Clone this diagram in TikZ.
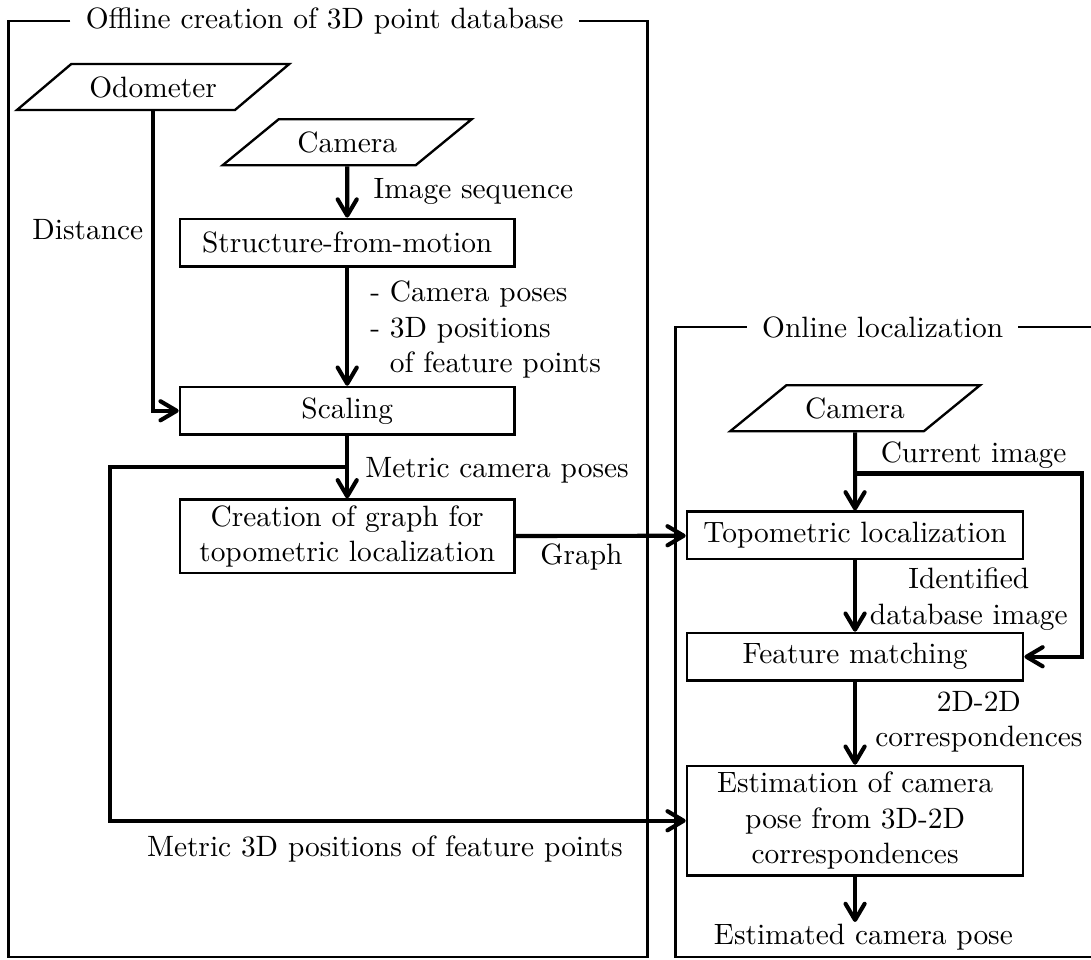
\documentclass[tikz,border=0pt]{standalone}
\usepackage{tikz}
\usetikzlibrary{arrows.meta,shapes.geometric}

\begin{document}
\begin{tikzpicture}[
    box/.style={draw, line width=0.8pt, minimum width=4cm, minimum height=0.57cm, inner sep=2pt, align=center},
    io/.style={draw, line width=0.8pt, trapezium, trapezium left angle=40, trapezium right angle=140, trapezium stretches=true, minimum height=0.55cm},
    flow/.style={-{Straight Barb[length=5.5pt,width=6.5pt,round]}, line width=1.4pt},
    frame/.style={line width=0.9pt},
    ttl/.style={inner xsep=5pt, inner ysep=0pt},
    lbl/.style={inner sep=0pt, align=left}
]
    \useasboundingbox (0,0) rectangle (13.04,-11.47);

    % Offline part
    \node[ttl] (offtitle) at (3.88,-0.25) {Offline creation of 3D point database};
    \node[io, minimum width=3.26cm] (odo) at (1.83,-1.04) {Odometer};
    \node[io, minimum width=2.99cm] (cam) at (4.15,-1.70) {Camera};
    \node[box] (sfm) at (4.15,-2.90) {Structure-from-motion};
    \node[box] (scal) at (4.15,-4.91) {Scaling};
    \node[box, minimum height=0.79cm] (graph) at (4.15,-6.41) {Creation of graph for\\topometric localization};

    % Online part
    \node[ttl] (ontitle) at (10.55,-3.91) {Online localization};
    \node[io, minimum width=3.0cm] (cam2) at (10.22,-4.88) {Camera};
    \node[box, minimum width=4.02cm] (topo) at (10.22,-6.40) {Topometric localization};
    \node[box, minimum width=4.02cm] (feat) at (10.22,-7.85) {Feature matching};
    \node[box, minimum width=4.02cm, minimum height=1.31cm] (est) at (10.22,-9.81) {Estimation of camera\\pose from 3D-2D\\correspondences};

    % frame corners and bends
    \coordinate (offNW) at (0.10,-0.25);
    \coordinate (offSW) at (0.10,-11.44);
    \coordinate (offSE) at (7.74,-11.44);
    \coordinate (offNE) at (7.74,-0.25);
    \coordinate (onNW) at (8.07,-3.91);
    \coordinate (onSW) at (8.07,-11.44);
    \coordinate (onSE) at (13.04,-11.44);
    \coordinate (onNE) at (13.04,-3.91);
    \coordinate (mcp) at (4.15,-5.58);
    \coordinate (mleft) at (1.31,-5.58);
    \coordinate (cur) at (10.22,-5.66);
    \coordinate (curR) at (12.93,-5.66);
    \coordinate (estout) at (10.22,-11.02);

    % labels
    \node[lbl] (ldist) at (1.05,-2.75) {Distance};
    \node[lbl, anchor=west] (lseq) at (4.46,-2.29) {Image sequence};
    \node[lbl, anchor=west] (lposes) at (4.42,-3.94) {- Camera poses\\- 3D positions\\\phantom{- }of feature points};
    \node[lbl, anchor=west] (lmcp) at (4.36,-5.62) {Metric camera poses};
    \node[lbl] (lgraph) at (6.95,-6.66) {Graph};
    \node[lbl] (lm3d) at (4.60,-10.15) {Metric 3D positions of feature points};
    \node[lbl, anchor=west] (lcur) at (10.52,-5.44) {Current image};
    \node[lbl, align=center] (lid) at (11.58,-7.16) {Identified\\database image};
    \node[lbl, align=center] (lcorr) at (11.70,-8.63) {2D-2D\\correspondences};
    \node[lbl] (lestpose) at (10.32,-11.20) {Estimated camera pose};

    % frames
    \draw[frame] (offtitle.west) -- (offNW) -- (offSW) -- (offSE) -- (offNE) -- (offtitle.east);
    \draw[frame] (ontitle.west) -- (onNW) -- (onSW) -- (onSE);
    \draw[frame] (ontitle.east) -- (onNE);

    \path[flow]
        (cam) edge (sfm)
        (sfm) edge (scal)
        (scal) edge (graph)
        (graph) edge (topo)
        (cam2) edge (topo)
        (topo) edge (feat)
        (feat) edge (est)
        (est) edge (estout);

    \draw[flow] (odo.south) |- (scal.west);
    \draw[flow] (mcp) -- (mleft) |- (est.west);
    \draw[flow] (cur) -- (curR) |- (feat.east);
\end{tikzpicture}
\end{document}
